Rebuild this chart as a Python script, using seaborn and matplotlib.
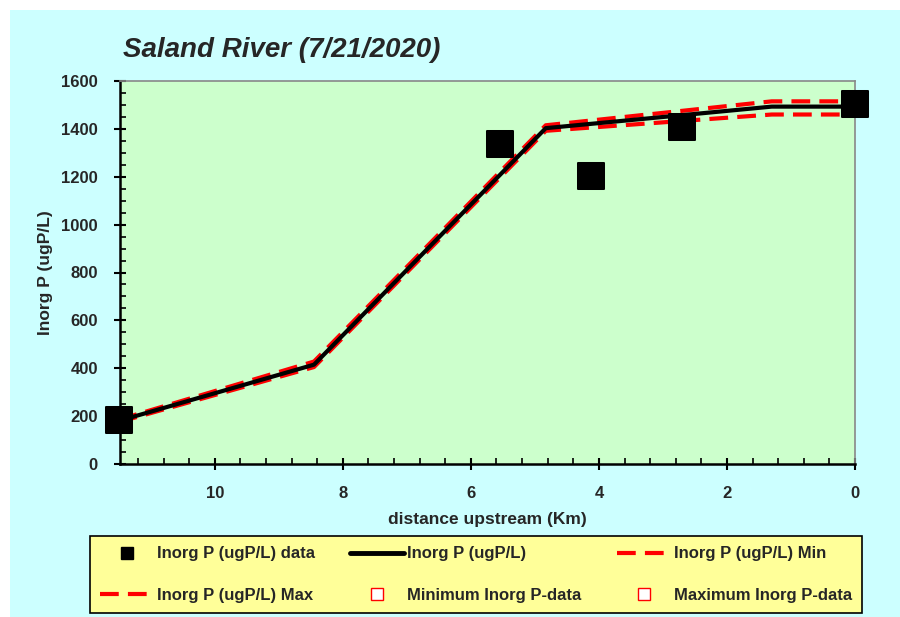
import matplotlib
matplotlib.use("Agg")
import matplotlib.pyplot as plt
from matplotlib.lines import Line2D
from matplotlib.patches import Rectangle
from matplotlib.ticker import MultipleLocator
import seaborn as sns
import pandas as pd

# Observed inorganic phosphorus samples
obs_km = [11.5, 5.55, 4.12, 2.70, 0.0]
obs_p = [182, 1337, 1203, 1407, 1504]

# Model profile (mean, min, max)
model_km = [11.5, 8.45, 4.83, 1.3, 0.0]
model_p = [180, 415, 1403, 1493, 1493]
model_min = [175, 405, 1392, 1460, 1460]
model_max = [185, 428, 1415, 1515, 1515]

sns.set_theme(style="white")
plt.rcParams["font.family"] = ["Liberation Sans", "DejaVu Sans"]

fig = plt.figure(figsize=(9, 6.17), dpi=100, facecolor="white")
fig.patches.append(Rectangle((10 / 900, 0), 890 / 900, 607 / 617,
                             transform=fig.transFigure, facecolor="#CCFFFF",
                             edgecolor="none", zorder=-10))
ax = fig.add_axes([120 / 900, (617 - 464) / 617, 735 / 900, 383 / 617])
ax.set_facecolor("#CCFFCC")

lines = pd.DataFrame({"km": model_km, "p": model_p, "lo": model_min, "hi": model_max})
obs = pd.DataFrame({"km": obs_km, "p": obs_p})

sns.lineplot(data=lines, x="km", y="lo", ax=ax, color="red", lw=3,
             dashes=False, sort=False, zorder=3).lines[-1].set_dashes([4.5, 2.2])
sns.lineplot(data=lines, x="km", y="hi", ax=ax, color="red", lw=3,
             dashes=False, sort=False, zorder=3).lines[-1].set_dashes([4.5, 2.2])
sns.lineplot(data=lines, x="km", y="p", ax=ax, color="black", lw=3, sort=False, zorder=4)
sns.scatterplot(data=obs, x="km", y="p", ax=ax, marker="s", s=330, color="black",
                edgecolor="black", zorder=5, clip_on=False)

ax.set_xlim(11.48, 0)
ax.set_ylim(0, 1600)
ax.xaxis.set_major_locator(MultipleLocator(2))
ax.xaxis.set_minor_locator(MultipleLocator(0.4))
ax.yaxis.set_major_locator(MultipleLocator(200))
ax.yaxis.set_minor_locator(MultipleLocator(50))
ax.tick_params(axis="both", which="major", direction="inout", length=8, width=1.5,
               labelsize=12, color="black", left=True, bottom=True)
ax.tick_params(axis="x", which="major", pad=12)
ax.tick_params(axis="y", which="major", pad=12)
ax.tick_params(axis="both", which="minor", direction="in", length=4, width=1.2,
               color="black", left=True, bottom=True)
for lab in ax.get_xticklabels() + ax.get_yticklabels():
    lab.set_fontweight("bold")

for side in ("left", "bottom"):
    ax.spines[side].set_color("black")
    ax.spines[side].set_linewidth(1.8)
for side in ("top", "right"):
    ax.spines[side].set_color("#888888")
    ax.spines[side].set_linewidth(1.2)

ax.set_xlabel("distance upstream (Km)", fontsize=12.5, fontweight="bold", labelpad=8)
ax.set_ylabel("Inorg P (ugP/L)", fontsize=12.5, fontweight="bold", labelpad=6)

fig.text(123 / 900, 1 - 50 / 617, "Saland River (7/21/2020)", fontsize=20,
         fontweight="bold", fontstyle="italic", va="center", ha="left")

h_data = Line2D([], [], ls="none", marker="s", ms=8, color="black")
h_line = Line2D([], [], color="black", lw=3.5)
h_min = Line2D([], [], color="red", lw=3, dashes=[4.5, 2.2])
h_max = Line2D([], [], color="red", lw=3, dashes=[4.5, 2.2])
h_dmin = Line2D([], [], ls="none", marker="s", ms=8, mfc="white", mec="red", mew=1)
h_dmax = Line2D([], [], ls="none", marker="s", ms=8, mfc="white", mec="red", mew=1)

# legend fills column by column, so list entries column-wise for a 2x3 grid
handles = [h_data, h_max, h_line, h_dmin, h_min, h_dmax]
labels = ["Inorg P (ugP/L) data", "Inorg P (ugP/L) Max",
          "Inorg P (ugP/L)", "Minimum Inorg P-data",
          "Inorg P (ugP/L) Min", "Maximum Inorg P-data"]
leg = fig.legend(handles, labels, ncol=3, loc="lower left",
                 bbox_to_anchor=(90 / 900, 4 / 617, 772 / 900, 75 / 617),
                 mode="expand", frameon=True, fancybox=False, facecolor="#FFFF99",
                 edgecolor="black", framealpha=1, prop={"weight": "bold", "size": 12},
                 handlelength=3.2, handletextpad=0.2, columnspacing=1.0,
                 labelspacing=1.6, borderpad=0.6, borderaxespad=0)
leg.get_frame().set_linewidth(1.2)

fig.savefig("out.png", dpi=100, facecolor="white")
